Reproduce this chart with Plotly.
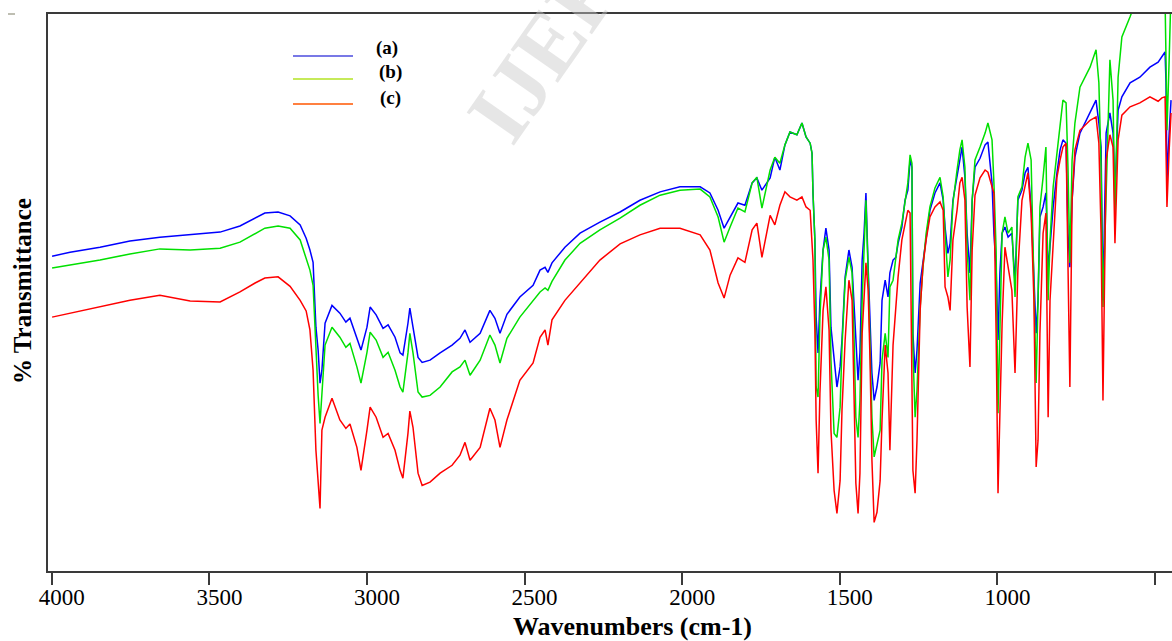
import plotly.graph_objects as go

# Wavenumbers (cm-1) shared by the three spectra
wavenumber = [
    3999, 3942, 3847, 3752, 3657, 3561, 3466, 3403, 3355, 3324, 3282, 3244, 3212, 3193, 3181, 3171,
    3162, 3155, 3149, 3143, 3133, 3111, 3086, 3067, 3054, 3032,
    3019, 3000, 2990, 2971, 2949, 2933, 2911, 2895, 2886, 2870,
    2864, 2854, 2838, 2825, 2800, 2768, 2730, 2705, 2689, 2673,
    2641, 2610, 2594, 2578, 2556, 2515, 2473, 2451, 2435, 2426,
    2413, 2372, 2324, 2261, 2197, 2134, 2070, 2007, 1943, 1912,
    1886, 1867, 1848, 1823, 1801, 1778, 1763, 1747, 1721, 1706,
    1690, 1674, 1658, 1636, 1620, 1607, 1594, 1588,
    1585, 1579, 1575, 1569, 1563, 1553, 1544, 1534, 1528, 1518,
    1509, 1499, 1493, 1483, 1471, 1461, 1455, 1449, 1442, 1436,
    1429, 1423, 1417, 1410, 1404, 1398, 1391, 1382, 1372, 1366,
    1356, 1347, 1341, 1331, 1322, 1315, 1303, 1293, 1284, 1277,
    1271, 1268, 1261, 1255, 1245, 1236, 1226, 1214, 1198, 1182,
    1172, 1166, 1157, 1150, 1141, 1128, 1119, 1112, 1103, 1096,
    1087, 1080, 1071, 1055, 1039, 1030, 1017, 1011, 1004, 998,
    992, 985, 976, 966, 954, 944, 935, 922, 912, 903,
    893, 884, 877, 871, 865, 855, 846, 839, 833, 823,
    811, 801, 792, 782, 776, 770, 763, 754, 738, 706,
    687, 678, 671, 665, 655, 643, 633, 627, 617, 605,
    579, 548, 516, 490, 478, 468, 465, 462, 455, 449,
]

# % Transmittance, sample (a)
trans_a = [
    56.7, 57.4, 58.3, 59.4, 60.1, 60.5, 61.0, 62.1, 63.5, 64.4, 64.6, 63.9, 62.3, 59.9, 57.8, 55.6,
    44.0, 39.9, 34.0, 36.3, 44.7, 47.9, 46.5, 44.9, 45.6, 42.2,
    39.9, 44.0, 47.6, 46.2, 43.8, 44.4, 42.2, 39.4, 39.0, 44.7,
    47.4, 44.0, 38.6, 37.7, 38.1, 39.4, 40.8, 42.0, 43.5, 41.3,
    42.9, 47.0, 45.6, 42.9, 46.3, 49.4, 51.5, 54.2, 54.7, 53.8,
    55.5, 58.3, 60.8, 62.8, 64.6, 66.7, 68.2, 69.1, 69.1, 68.0,
    64.9, 61.7, 63.7, 66.2, 65.8, 69.8, 70.7, 68.5, 70.7, 74.4,
    72.1, 76.6, 78.9, 78.4, 80.5, 78.0, 76.9, 75.1,
    68.0, 59.6, 45.8, 39.4, 48.8, 57.8, 61.7, 57.8, 44.0, 37.6,
    33.3, 36.9, 41.7, 53.0, 57.8, 54.7, 48.8, 41.1, 34.5, 39.4,
    56.0, 60.8, 68.0, 54.7, 46.5, 35.8, 30.9, 33.3, 37.6, 48.8,
    52.4, 49.4, 53.7, 56.0, 56.5, 59.0, 61.9, 66.7, 68.5, 73.9,
    72.6, 42.9, 35.8, 39.9, 51.9, 55.5, 59.6, 64.9, 68.0, 69.8,
    66.7, 61.9, 57.2, 59.0, 66.7, 70.8, 73.9, 76.2, 70.8, 60.8,
    53.7, 66.7, 72.6, 74.2, 76.6, 77.1, 69.8, 60.8, 54.7, 41.7,
    53.7, 60.8, 61.9, 60.1, 60.8, 51.9, 66.7, 68.5, 71.6, 72.6,
    65.5, 51.9, 42.9, 48.8, 63.7, 65.5, 68.0, 54.2, 59.0, 65.5,
    71.6, 75.7, 77.5, 76.9, 60.8, 54.7, 66.7, 74.4, 78.7, 82.3,
    84.6, 80.5, 76.2, 48.8, 78.7, 82.3, 78.7, 68.0, 82.8, 85.2,
    87.7, 88.7, 90.5, 91.4, 92.3, 93.2, 87.7, 70.3, 78.7, 84.6,
]

# % Transmittance, sample (b)
trans_b = [
    54.6, 55.1, 56.0, 57.1, 58.0, 57.8, 58.1, 59.2, 60.8, 61.7, 62.1, 61.7, 59.6, 56.5, 54.2, 51.5,
    39.9, 31.8, 26.8, 32.7, 40.8, 44.0, 42.2, 40.4, 41.1, 36.9,
    34.0, 39.5, 43.1, 41.7, 38.6, 39.5, 36.3, 33.3, 32.4, 39.4,
    42.9, 39.4, 32.4, 31.5, 31.8, 33.3, 36.0, 36.9, 38.1, 35.4,
    38.1, 42.6, 40.8, 37.6, 42.0, 45.8, 48.8, 50.3, 51.0, 50.6,
    52.2, 56.0, 59.0, 61.4, 63.5, 65.8, 67.6, 68.5, 68.7, 67.3,
    63.7, 59.2, 61.9, 65.3, 64.6, 69.8, 70.8, 65.3, 72.1, 74.4,
    73.3, 76.6, 78.9, 78.4, 80.5, 78.0, 76.9, 75.1,
    68.0, 59.6, 33.3, 31.5, 45.8, 57.8, 60.1, 56.0, 38.1, 25.0,
    24.3, 29.7, 40.4, 52.4, 56.5, 53.7, 42.9, 27.9, 24.3, 30.9,
    48.8, 59.0, 66.7, 53.7, 42.9, 27.9, 20.8, 23.3, 25.6, 38.1,
    42.9, 38.6, 51.2, 52.4, 56.0, 59.6, 62.6, 66.7, 69.8, 74.8,
    73.3, 39.9, 27.9, 32.7, 47.6, 54.7, 60.8, 65.5, 68.9, 70.8,
    67.3, 60.8, 53.0, 56.0, 66.2, 72.1, 75.7, 77.5, 72.6, 57.8,
    48.8, 66.7, 73.9, 76.2, 78.7, 80.5, 77.5, 69.8, 57.8, 28.6,
    44.7, 60.8, 63.7, 60.8, 61.9, 49.4, 67.3, 69.1, 74.4, 76.9,
    73.9, 51.9, 34.0, 48.8, 65.5, 70.8, 76.2, 48.8, 59.6, 69.1,
    75.1, 79.8, 84.6, 84.1, 72.6, 55.5, 73.9, 80.5, 86.9, 90.5,
    93.6, 87.7, 72.6, 47.6, 66.7, 91.8, 84.6, 63.7, 88.7, 95.9,
    99.5, 104.3, 106.1, 106.1, 104.3, 102.5, 91.8, 79.2, 91.8, 104.3,
]

# % Transmittance, sample (c)
trans_c = [
    45.8, 46.5, 47.6, 48.8, 49.7, 48.7, 48.5, 50.3, 51.9, 52.8, 53.0, 51.3, 48.8, 46.9, 43.5, 36.3,
    22.0, 16.6, 11.6, 25.6, 27.9, 31.3, 27.4, 25.9, 26.7, 22.5,
    18.4, 25.6, 29.7, 27.9, 24.3, 25.0, 22.0, 18.4, 17.0, 25.0,
    29.0, 26.1, 17.9, 15.7, 16.3, 17.9, 19.3, 21.1, 23.4, 20.2,
    22.5, 29.5, 27.4, 22.5, 27.4, 34.5, 37.6, 42.2, 43.5, 40.8,
    45.3, 48.8, 51.9, 56.0, 58.9, 60.5, 61.7, 61.7, 60.5, 57.8,
    51.9, 49.2, 53.3, 56.4, 55.6, 61.4, 62.6, 56.5, 64.0, 62.3,
    65.8, 68.2, 67.3, 66.7, 67.3, 65.5, 64.9, 59.6,
    56.0, 43.5, 27.4, 17.9, 32.2, 47.0, 51.2, 43.5, 25.6, 14.8,
    10.7, 16.6, 29.2, 41.7, 52.4, 48.8, 32.7, 16.1, 10.7, 17.9,
    42.9, 50.6, 55.5, 50.6, 38.1, 20.2, 9.1, 10.9, 16.6, 27.4,
    40.8, 35.8, 22.0, 40.8, 48.8, 53.0, 59.6, 62.6, 64.9, 64.4,
    25.0, 18.4, 14.3, 23.8, 47.0, 55.1, 59.6, 63.7, 65.5, 66.4,
    64.9, 51.2, 49.4, 47.0, 59.6, 64.9, 69.8, 70.8, 66.7, 47.6,
    36.9, 57.8, 67.6, 70.7, 72.1, 71.7, 69.1, 68.0, 42.9, 14.3,
    28.6, 44.7, 58.3, 54.7, 50.6, 35.8, 54.2, 66.7, 69.1, 71.6,
    64.4, 48.8, 19.0, 23.8, 42.9, 60.8, 64.4, 27.9, 48.8, 59.6,
    70.8, 73.9, 76.2, 76.9, 54.7, 33.3, 66.7, 75.7, 79.2, 81.0,
    81.6, 76.9, 60.8, 30.9, 73.9, 78.4, 76.2, 59.0, 77.5, 81.9,
    83.4, 84.1, 85.2, 84.4, 85.0, 85.2, 75.7, 65.5, 75.7, 82.3,
]

series_labels = ["(a)", "(b)", "(c)"]
tick_values = [4000, 3500, 3000, 2500, 2000, 1500, 1000, 500]
tick_labels = ["4000", "3500", "3000", "2500", "2000", "1500", "1000", ""]

SERIF = "Liberation Serif, DejaVu Serif, serif"
line_colors = ["#0000ff", "#00e000", "#ff0000"]
legend_colors = ["#7878e6", "#c6ea5a", "#ff8040"]

fig = go.Figure()
for ys, col, name in zip([trans_a, trans_b, trans_c], line_colors, series_labels):
    fig.add_trace(go.Scatter(x=wavenumber, y=ys, mode="lines", name=name,
                             line=dict(color=col, width=1.5), showlegend=False))

# plot area: x 48..1172 px, y 14..571 px
def px(xp):
    return (xp - 48) / 1124.0

def py(yp):
    return (571 - yp) / 557.0

shapes = []
annotations = []
leg_y = [56, 79, 104]
lab_xy = [(387, 48), (390, 72), (390, 98)]
for i in range(3):
    shapes.append(dict(type="line", xref="paper", yref="paper",
                       x0=px(293), x1=px(353), y0=py(leg_y[i]), y1=py(leg_y[i]),
                       line=dict(color=legend_colors[i], width=2)))
    annotations.append(dict(text="<b>%s</b>" % series_labels[i], xref="paper", yref="paper",
                            x=px(lab_xy[i][0]), y=py(lab_xy[i][1]), showarrow=False,
                            xanchor="center", yanchor="middle",
                            font=dict(family=SERIF, size=19, color="#000000")))

# small mark at top-left
shapes.append(dict(type="line", xref="paper", yref="paper", x0=px(8), x1=px(15),
                   y0=py(14), y1=py(14), line=dict(color="#a8a898", width=1.5)))

# watermark
annotations.append(dict(text="<b>IJERT</b>", xref="paper", yref="paper",
                        x=px(561), y=py(26), showarrow=False, textangle=-55,
                        xanchor="center", yanchor="middle",
                        font=dict(family=SERIF, size=88, color="rgba(200,200,200,0.45)")))

# axis titles
annotations.append(dict(text="<b>Wavenumbers (cm-1)</b>", xref="paper", yref="paper",
                        x=px(632), y=py(626), showarrow=False, xanchor="center", yanchor="middle",
                        font=dict(family=SERIF, size=26, color="#000000")))
annotations.append(dict(text="<b>% Transmittance</b>", xref="paper", yref="paper",
                        x=px(22), y=py(291), showarrow=False, textangle=-90,
                        xanchor="center", yanchor="middle",
                        font=dict(family=SERIF, size=25, color="#000000")))

fig.update_layout(
    width=1172, height=641,
    margin=dict(l=48, r=0, t=14, b=70),
    paper_bgcolor="#ffffff", plot_bgcolor="#ffffff",
    font=dict(family=SERIF, color="#000000"),
    shapes=shapes, annotations=annotations,
    showlegend=False,
    xaxis=dict(range=[4012, 446], showgrid=False, zeroline=False,
               showline=True, linecolor="#3a3a3a", linewidth=2, mirror=True,
               ticks="outside", ticklen=12, tickwidth=2, tickcolor="#3a3a3a",
               tickmode="array", tickvals=tick_values, ticktext=tick_labels,
               ticklabelshift=-10, ticklabelstandoff=-8,
               tickfont=dict(family=SERIF, size=23, color="#000000", weight="normal")),
    yaxis=dict(range=[0.4, 100], showgrid=False, zeroline=False,
               showline=True, linecolor="#3a3a3a", linewidth=2,
               showticklabels=False, ticks=""),
)

fig.write_html("out.html")
